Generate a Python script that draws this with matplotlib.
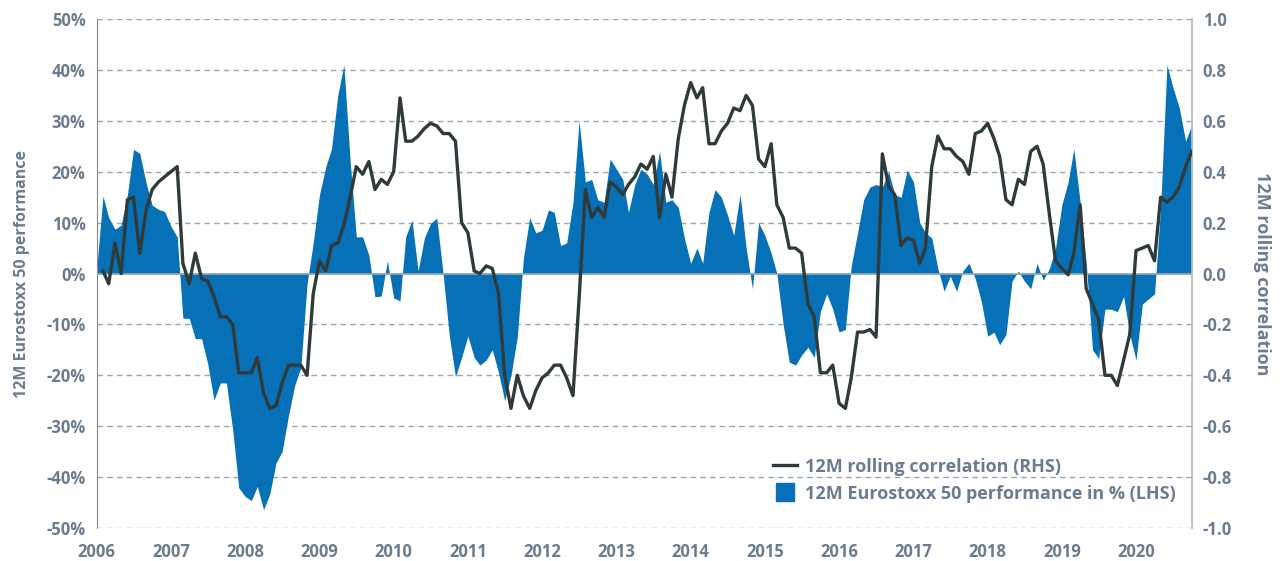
"""
12M Eurostoxx 50 performance (area, LHS) vs 12M rolling correlation (line, RHS).
"""
import matplotlib
matplotlib.use("Agg")
import matplotlib.pyplot as plt
import matplotlib.dates as mdates
from matplotlib.lines import Line2D
import numpy as np
import pandas as pd

AREA_BLUE = "#0771B8"
LINE_DARK = "#2F3A3A"
TEXT_GREY = "#6B7C8F"
GRID_GREY = "#9AA5B1"
ZERO_LINE = "#8EA4BA"

plt.rcParams["font.family"] = ["Open Sans", "DejaVu Sans"]

# monthly observations, Jan 2006 .. Oct 2020
start_month = "2006-01-01"

perf_pct = [
    1, 15.2, 11, 8.7, 9.5, 15.5, 24.4, 23.6, 17.8, 13.4, 12.6, 12.2,
    9.3, 7.2, -8.8, -8.8, -12.8, -12.8, -17.7, -24.9, -21.5, -21.5, -30.7, -42.1,
    -43.8, -44.6, -41.8, -46.4, -43.4, -37.2, -35, -28, -22, -18.5, -2, 6,
    15.5, 21, 24.5, 35, 41, 22, 7.2, 7.2, 3.6, -4.6, -4.4, 2.5,
    -4.8, -5.4, 7.2, 10.5, 0.5, 7, 9.8, 10.9, 0, -12, -20.3, -16.5,
    -12.3, -16.5, -18, -17, -15, -19.5, -25, -20, -12.5, 3, 11, 8,
    8.5, 12.5, 12, 5.5, 6, 14, 30, 18, 18.5, 14.5, 14, 22.5,
    20.5, 18.5, 12, 17.5, 20.5, 19.5, 17.5, 24, 14, 14.5, 13, 7,
    2, 5, 2, 12, 16.5, 15, 11.5, 7.5, 15.5, 5, -3, 10,
    7.5, 4, 0, -10, -17.4, -18, -16, -14.5, -16.5, -7.5, -4, -7,
    -11.5, -11, 1.5, 8, 14.5, 17, 17.5, 17, 20, 15.5, 15, 20.3,
    18, 10, 8, 7, 1, -3.5, -0.5, -3.5, 0.5, 2, -1, -5.5,
    -12.3, -11.5, -14, -12, -1.5, 0.5, -1.5, -3, 2, -1.3, 1, 5,
    13.5, 18, 24.5, 14, 2, -15, -16.7, -7, -7, -7.5, -4.5, -12,
    -17, -6, -5, -4, 13, 41, 36.5, 32.5, 26, 29.2,
]

rolling_corr = [
    np.nan, 0.01, -0.04, 0.12, 0.0, 0.29, 0.30, 0.08, 0.25, 0.33, 0.36, 0.38,
    0.40, 0.42, 0.04, -0.04, 0.08, -0.02, -0.03, -0.09, -0.17, -0.17, -0.20, -0.39,
    -0.39, -0.39, -0.33, -0.47, -0.53, -0.52, -0.43, -0.36, -0.36, -0.36, -0.40, -0.08,
    0.05, 0.01, 0.11, 0.12, 0.19, 0.30, 0.42, 0.39, 0.44, 0.33, 0.37, 0.35,
    0.40, 0.69, 0.52, 0.52, 0.54, 0.57, 0.59, 0.58, 0.55, 0.55, 0.52, 0.20,
    0.16, 0.01, 0.0, 0.03, 0.02, -0.08, -0.40, -0.53, -0.40, -0.48, -0.53, -0.46,
    -0.41, -0.39, -0.36, -0.36, -0.41, -0.48, -0.10, 0.33, 0.22, 0.26, 0.22, 0.36,
    0.34, 0.31, 0.35, 0.38, 0.43, 0.41, 0.46, 0.22, 0.39, 0.30, 0.53, 0.66,
    0.75, 0.69, 0.73, 0.51, 0.51, 0.56, 0.59, 0.65, 0.64, 0.70, 0.66, 0.45,
    0.42, 0.51, 0.27, 0.22, 0.10, 0.10, 0.08, -0.12, -0.17, -0.39, -0.39, -0.36,
    -0.51, -0.53, -0.41, -0.23, -0.23, -0.22, -0.25, 0.47, 0.34, 0.31, 0.11, 0.14,
    0.13, 0.04, 0.10, 0.42, 0.54, 0.49, 0.49, 0.46, 0.44, 0.39, 0.55, 0.56,
    0.59, 0.53, 0.46, 0.29, 0.27, 0.37, 0.35, 0.48, 0.50, 0.43, 0.23, 0.05,
    0.02, -0.005, 0.08, 0.27, -0.06, -0.12, -0.18, -0.40, -0.40, -0.44, -0.34, -0.24,
    0.09, 0.10, 0.11, 0.05, 0.30, 0.28, 0.30, 0.34, 0.42, 0.48,
]

years = list(range(2006, 2021))
left_ticks = [50, 40, 30, 20, 10, 0, -10, -20, -30, -40, -50]
right_ticks = [1.0, 0.8, 0.6, 0.4, 0.2, 0.0, -0.2, -0.4, -0.6, -0.8, -1.0]

dates = pd.date_range(start_month, periods=len(perf_pct), freq="MS")
perf = np.array(perf_pct, dtype=float)
corr = np.array(rolling_corr, dtype=float)

fig = plt.figure(figsize=(12.86, 5.61), dpi=100)
fig.patch.set_facecolor("white")
ax = fig.add_axes([0.0752, 0.0588, 0.8515, 0.9073])
ax2 = ax.twinx()

# area, LHS
ax.fill_between(dates, perf, 0, color=AREA_BLUE, linewidth=0, zorder=2)
ax.axhline(0, color=ZERO_LINE, linewidth=1.3, zorder=3)
ax.set_ylim(-50, 50)
ax.set_xlim(dates[0], dates[-1])
ax.set_yticks(left_ticks)
ax.set_yticklabels([f"{v}%" for v in left_ticks])
for v in left_ticks:
    if v != 0:
        ax.axhline(v, color=GRID_GREY, linewidth=1.0, linestyle=(0, (4, 3)), zorder=1)

ax.set_xticks([pd.Timestamp(f"{y}-01-01") for y in years])
ax.xaxis.set_major_formatter(mdates.DateFormatter("%Y"))

# correlation, RHS
ax2.plot(dates, corr, color=LINE_DARK, linewidth=2.4, zorder=5)
ax2.set_ylim(-1, 1)
ax2.set_yticks(right_ticks)
ax2.set_yticklabels([f"{v:.1f}" for v in right_ticks])

for a in (ax, ax2):
    for side in ("top", "bottom"):
        a.spines[side].set_visible(False)
    a.tick_params(length=0, labelsize=12, labelcolor=TEXT_GREY)
    for lab in a.get_xticklabels() + a.get_yticklabels():
        lab.set_fontweight("bold")
ax.spines["left"].set_color("#7D8B99")
ax.spines["right"].set_visible(False)
ax2.spines["left"].set_visible(False)
ax2.spines["right"].set_color("#B3BCC6")
ax2.spines["right"].set_linewidth(1.3)
ax.tick_params(axis="y", pad=8)
ax.tick_params(axis="x", pad=11)
ax2.tick_params(axis="y", pad=8)

ax.set_ylabel("12M Eurostoxx 50 performance", fontsize=11.5, fontweight="bold",
              color=TEXT_GREY, labelpad=12)
ax2.set_ylabel("12M rolling correlation", fontsize=13, fontweight="bold",
               color=TEXT_GREY, rotation=270, labelpad=28)

handles = [
    Line2D([], [], color=LINE_DARK, linewidth=2.4),
    Line2D([], [], color=AREA_BLUE, marker="s", linestyle="none", markersize=12.5),
]
labels = ["12M rolling correlation (RHS)", "12M Eurostoxx 50 performance in % (LHS)"]
leg = ax2.legend(handles, labels, loc="lower left", bbox_to_anchor=(0.618, 0.05),
                 frameon=False, fontsize=13, handlelength=1.3, handletextpad=0.45,
                 labelspacing=0.5, borderpad=0, borderaxespad=0)
for t in leg.get_texts():
    t.set_color(TEXT_GREY)
    t.set_fontweight("bold")

fig.savefig("out.png", dpi=100, facecolor="white")
